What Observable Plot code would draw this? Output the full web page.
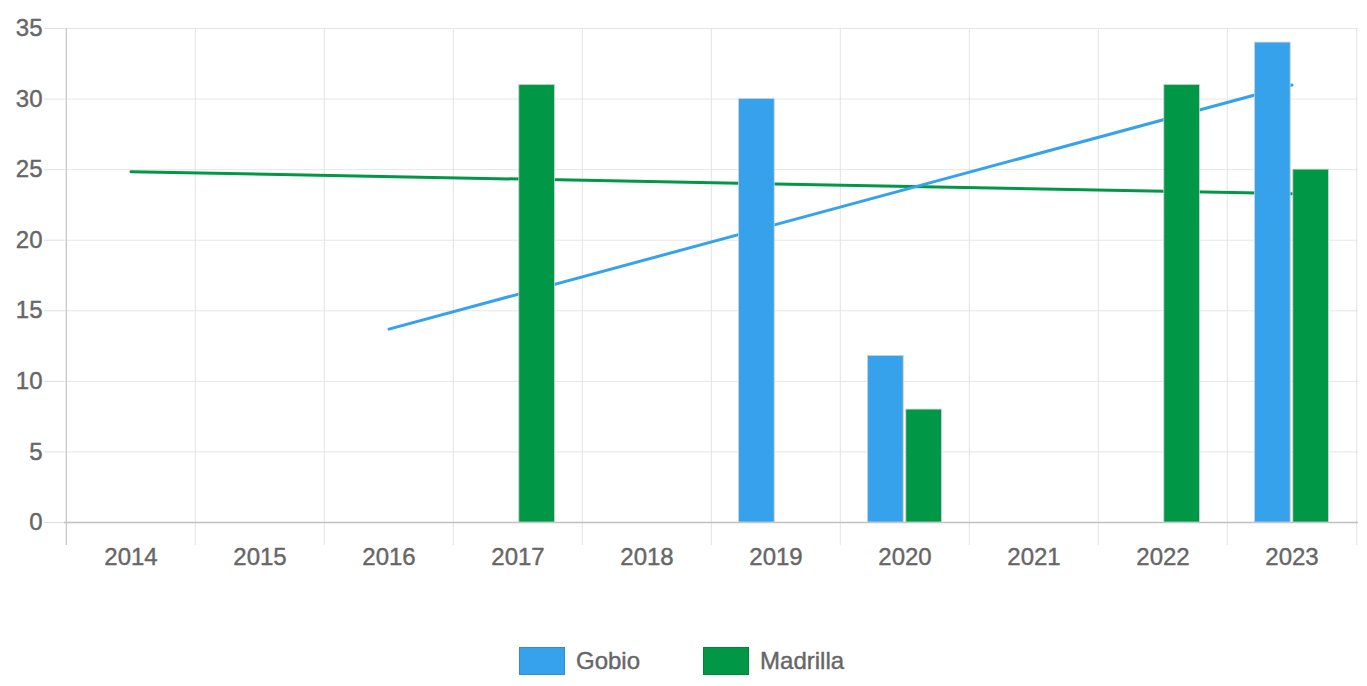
<!DOCTYPE html>
<html>
<head>
<meta charset="utf-8">
<script src="https://cdn.jsdelivr.net/npm/d3@7"></script>
<script src="https://cdn.jsdelivr.net/npm/@observablehq/plot@0.6"></script>
<style>
  html, body { margin: 0; padding: 0; background: #fff; }
  #wrap { position: relative; width: 1367px; height: 686px; font-family: "Liberation Sans", Arial, sans-serif; }
  #legend { position: absolute; top: 647px; left: 519px; display: flex; align-items: center; }
  .item { display: flex; align-items: center; color: #666; font-size: 24px; -webkit-text-stroke: 0.4px #666; }
  .sw { width: 44px; height: 26px; border: 1px solid rgba(0,0,0,0.12); margin-right: 11px; }
</style>
</head>
<body>
<div id="wrap"><div id="chart"></div><div id="legend"></div></div>
<script>
const years = ["2014","2015","2016","2017","2018","2019","2020","2021","2022","2023"];
const seriesNames = ["Gobio", "Madrilla"];
const seriesColors = ["#36a2eb", "#009846"];
const gobioValues = [null, null, null, null, null, 30, 11.8, null, null, 34];
const madrillaValues = [null, null, null, 31, null, null, 8, null, 31, 25];
const gobioTrend = [{year: "2016", value: 13.7}, {year: "2023", value: 31.0}];
const madrillaTrend = [{year: "2014", value: 24.85}, {year: "2023", value: 23.3}];
const yTicks = [0, 5, 10, 15, 20, 25, 30, 35];

const W = 1367, H = 600, ML = 64, MR = 9, MT = 28, MB = 78;
const bw = (W - ML - MR) / years.length;

const bars = [];
years.forEach((y, i) => {
  if (gobioValues[i] != null) bars.push({year: y, series: "Gobio", value: gobioValues[i]});
  if (madrillaValues[i] != null) bars.push({year: y, series: "Madrilla", value: madrillaValues[i]});
});
const gob = bars.filter(d => d.series === "Gobio");
const mad = bars.filter(d => d.series === "Madrilla");
const barW = 36, gap = 2.2;

const chart = Plot.plot({
  width: W, height: H,
  marginLeft: ML, marginRight: MR, marginTop: MT, marginBottom: MB,
  style: {fontFamily: "Liberation Sans, Arial, sans-serif", fontSize: "24px", background: "#fff"},
  x: {domain: years, padding: 0, axis: null, label: null},
  y: {domain: [0, 35], axis: null, label: null},
  color: {domain: seriesNames, range: seriesColors},
  marks: [
    Plot.ruleY(yTicks, {y: d => d, stroke: "#e6e6e6", strokeWidth: 1}),
    Plot.ruleX(years, {x: d => d, dx: -bw / 2, y1: 35, y2: 0, stroke: "#e3e3e3", insetBottom: -23}),
    Plot.ruleX([years[years.length - 1]], {x: d => d, dx: bw / 2, y1: 35, y2: 0, stroke: "#e3e3e3", insetBottom: -23}),
    Plot.axisY(yTicks, {tickSize: 20, tickPadding: 2, stroke: "#e0e0e0", fill: "#666", fontSize: 24, label: null,
      tickFormat: d => d, textStroke: "#666", textStrokeWidth: 0.4}),
    Plot.ruleX([years[0]], {x: d => d, dx: -bw / 2, y1: 35, y2: 0, stroke: "#c0c0c0", insetBottom: -23}),
    Plot.ruleY([0], {stroke: "#c0c0c0", strokeWidth: 1.5}),
    Plot.axisX(years, {tickSize: 0, tickPadding: 25, fill: "#666", fontSize: 24, label: null,
      textStroke: "#666", textStrokeWidth: 0.4}),
    Plot.line(madrillaTrend, {x: "year", y: "value", stroke: seriesColors[1], strokeWidth: 3}),
    Plot.line(gobioTrend, {x: "year", y: "value", stroke: seriesColors[0], strokeWidth: 3}),
    Plot.barY(gob, {x: "year", y: "value", fill: "series", stroke: "#d0d0d0", strokeWidth: 0.8,
      insetLeft: bw / 2 - barW - gap / 2, insetRight: bw / 2 + gap / 2}),
    Plot.barY(mad, {x: "year", y: "value", fill: "series", stroke: "#d0d0d0", strokeWidth: 0.8,
      insetLeft: bw / 2 + gap / 2, insetRight: bw / 2 - barW - gap / 2})
  ]
});
document.getElementById("chart").appendChild(chart);

const legend = document.getElementById("legend");
seriesNames.forEach((name, i) => {
  const item = document.createElement("div");
  item.className = "item";
  item.style.marginRight = i === 0 ? "63px" : "0";
  const sw = document.createElement("div");
  sw.className = "sw";
  sw.style.background = seriesColors[i];
  const label = document.createElement("span");
  label.textContent = name;
  item.appendChild(sw); item.appendChild(label);
  legend.appendChild(item);
});
</script>
</body>
</html>
